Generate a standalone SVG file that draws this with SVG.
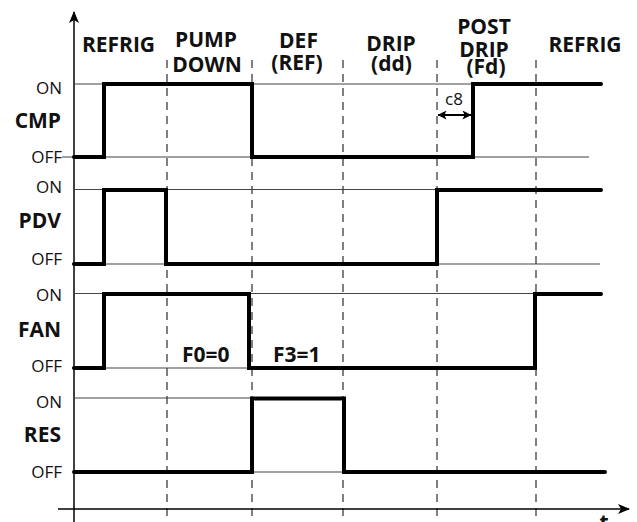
<svg xmlns="http://www.w3.org/2000/svg" width="637" height="522" viewBox="0 0 637 522">
<style>
.hd{font-family:"Open Sans","Liberation Sans",sans-serif;font-weight:bold;font-size:21px;fill:#111;text-anchor:middle}
.nm{font-family:"Open Sans","Liberation Sans",sans-serif;font-weight:bold;font-size:21px;fill:#111;text-anchor:end}
.st{font-family:"Open Sans","Liberation Sans",sans-serif;font-size:17px;fill:#111;text-anchor:end}
.fb{font-family:"Open Sans","Liberation Sans",sans-serif;font-weight:bold;font-size:21px;fill:#111}
.c8{font-family:"Open Sans","Liberation Sans",sans-serif;font-size:17px;fill:#111}
.grid{stroke:#444;stroke-width:1.2;fill:none}
.dash{stroke:#555;stroke-width:1.5;stroke-dasharray:8,6;fill:none}
.sig{stroke:#000;stroke-width:4;fill:none;stroke-linejoin:miter;stroke-linecap:round}
.axis{stroke:#000;stroke-width:1.5;fill:none}
</style>
<defs>
<marker id="ah" viewBox="0 0 12 10" refX="11" refY="5" markerWidth="12" markerHeight="10" markerUnits="userSpaceOnUse" orient="auto-start-reverse">
<path d="M0,0 L12,5 L0,10 L3,5 Z" fill="#000"/>
</marker>
<marker id="ah2" viewBox="0 0 10 10" refX="9.5" refY="5" markerWidth="9" markerHeight="9" markerUnits="userSpaceOnUse" orient="auto-start-reverse">
<path d="M0,0 L10,5 L0,10 L2.5,5 Z" fill="#000"/>
</marker>
</defs>
<rect width="637" height="522" fill="#fff"/>

<g id="phase-dividers">
<line class="dash" x1="167" y1="60" x2="167" y2="522"/>
<line class="dash" x1="252" y1="60" x2="252" y2="522"/>
<line class="dash" x1="343" y1="60" x2="343" y2="522"/>
<line class="dash" x1="437" y1="60" x2="437" y2="522"/>
<line class="dash" x1="536" y1="60" x2="536" y2="522"/>
</g>

<g id="phase-labels">
<text class="hd" x="118.5" y="52">REFRIG</text>
<text class="hd" y="47"><tspan x="206">PUMP</tspan><tspan x="207" dy="25">DOWN</tspan></text>
<text class="hd" y="48"><tspan x="298.5">DEF</tspan><tspan x="297" dy="22">(REF)</tspan></text>
<text class="hd" y="51"><tspan x="391">DRIP</tspan><tspan x="391.5" dy="20">(dd)</tspan></text>
<text class="hd" y="34"><tspan x="484">POST</tspan><tspan x="484" dy="23">DRIP</tspan><tspan x="486" dy="17">(Fd)</tspan></text>
<text class="hd" x="585" y="52">REFRIG</text>
</g>

<g id="axes">
<line class="axis" x1="74" y1="522" x2="74" y2="12" marker-end="url(#ah)"/>
<line class="axis" x1="58" y1="509" x2="629" y2="509" marker-end="url(#ah)"/>
<text class="fb" x="604" y="530" text-anchor="middle" font-size="18">t</text>
</g>

<g id="CMP">
<line class="grid" x1="74" y1="84" x2="601" y2="84"/>
<line class="grid" x1="62" y1="157" x2="589" y2="157"/>
<text class="st" x="62" y="94">ON</text>
<text class="nm" x="61" y="128">CMP</text>
<text class="st" x="62" y="163">OFF</text>
<polyline class="sig" points="74,157 104,157 104,84 252,84 252,157 473,157 473,84 601,84"/>
</g>

<g id="c8">
<text class="c8" x="445" y="105">c8</text>
<line stroke="#000" stroke-width="1.8" x1="438" y1="115" x2="471" y2="115" marker-start="url(#ah2)" marker-end="url(#ah2)"/>
</g>

<g id="PDV">
<line class="grid" x1="74" y1="189.5" x2="601" y2="189.5"/>
<line class="grid" x1="72" y1="264" x2="600" y2="264"/>
<text class="st" x="62" y="193">ON</text>
<text class="nm" x="61" y="228">PDV</text>
<text class="st" x="62" y="265">OFF</text>
<polyline class="sig" points="74,264 104,264 104,190 166,190 166,264 437,264 437,190 601,190"/>
</g>

<g id="FAN">
<line class="grid" x1="74" y1="293.5" x2="535" y2="293.5"/>
<line class="grid" x1="72" y1="368" x2="535" y2="368"/>
<text class="st" x="62" y="301">ON</text>
<text class="nm" x="61" y="337">FAN</text>
<text class="st" x="62" y="372">OFF</text>
<polyline class="sig" points="74,368 104,368 104,294 249,294 249,368 535,368 535,294 601,294"/>
<text class="fb" x="182" y="362">F0=0</text>
<text class="fb" x="273" y="362">F3=1</text>
</g>

<g id="RES">
<line class="grid" x1="74" y1="398" x2="344" y2="398"/>
<line class="grid" x1="73" y1="472" x2="605" y2="472"/>
<text class="st" x="62" y="408">ON</text>
<text class="nm" x="61" y="442">RES</text>
<text class="st" x="62" y="478">OFF</text>
<polyline class="sig" points="74,472 252,472 252,398.5 344,398.5 344,472 605,472"/>
</g>
</svg>
